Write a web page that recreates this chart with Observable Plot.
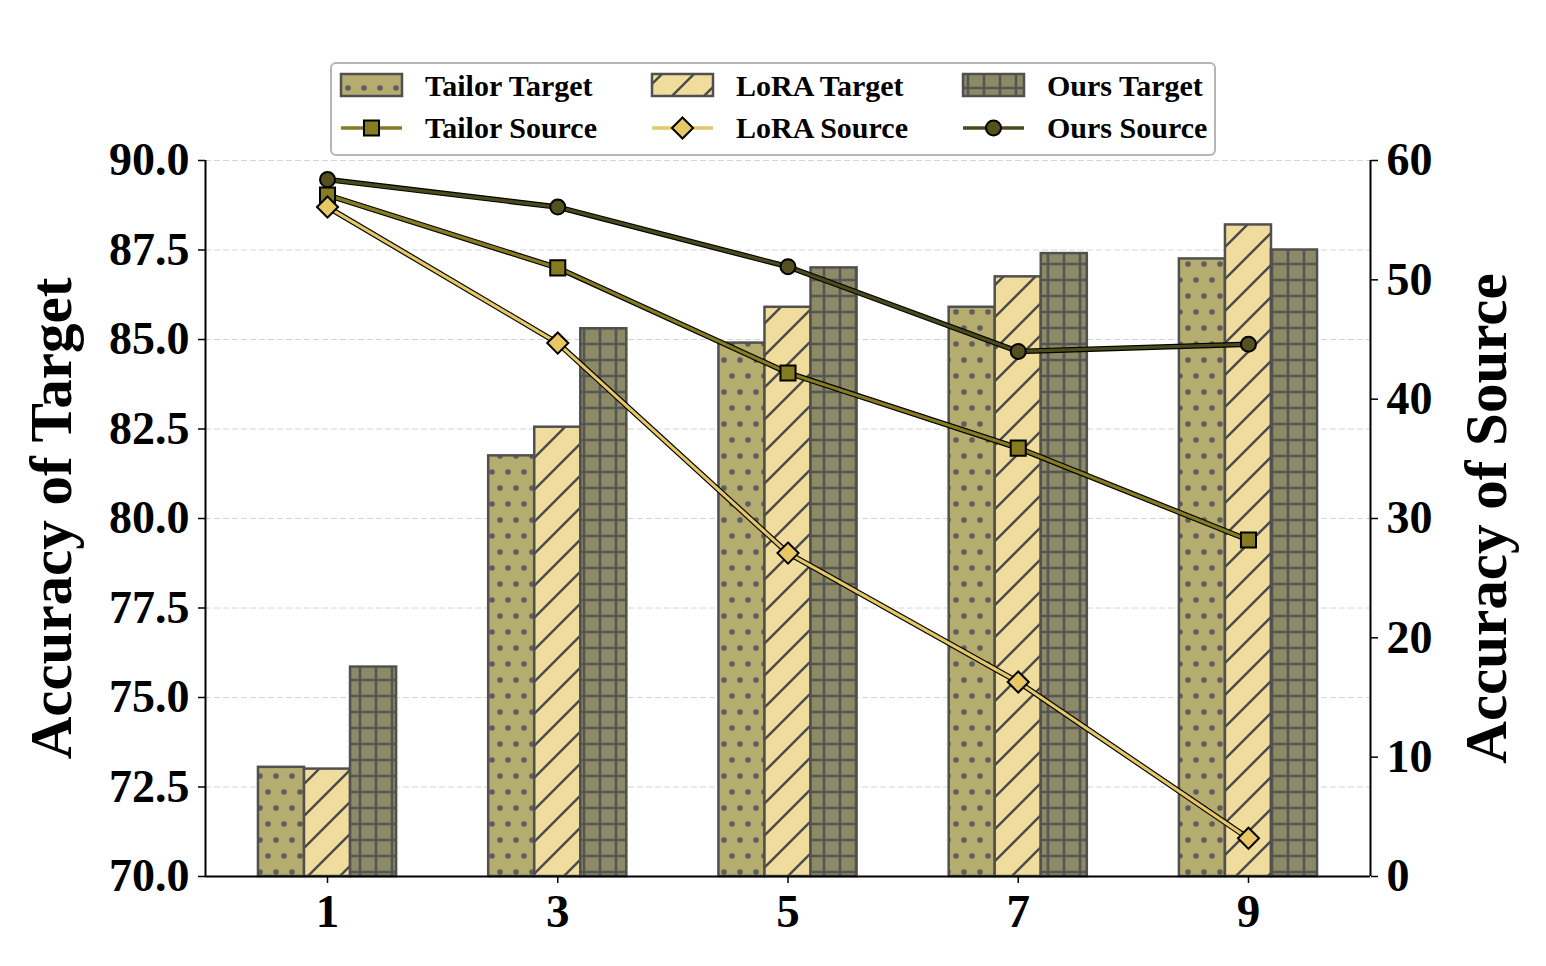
<!DOCTYPE html>
<html>
<head>
<meta charset="utf-8">
<script src="https://cdn.jsdelivr.net/npm/d3@7"></script>
<script src="https://cdn.jsdelivr.net/npm/@observablehq/plot@0.6"></script>
<style>
  html, body { margin: 0; padding: 0; background: white; }
  #wrap { position: relative; width: 1546px; height: 966px; font-family: "Liberation Serif", "Times New Roman", serif; }
  #legend { position: absolute; left: 0; top: 0; pointer-events: none; }
</style>
</head>
<body>
<div id="wrap"></div>
<script>
// ---------- data ----------
const xCats = [1, 3, 5, 7, 9];
const tailorTarget = [73.05, 81.75, 84.9, 85.9, 87.25];
const loraTarget   = [73.0, 82.55, 85.9, 86.75, 88.2];
const oursTarget   = [75.85, 85.3, 87.0, 87.4, 87.5];
const tailorSource = [57.1, 51.0, 42.2, 35.9, 28.2];
const loraSource   = [56.1, 44.7, 27.1, 16.3, 3.2];
const oursSource   = [58.4, 56.1, 51.1, 44.0, 44.6];
const leftTicks  = [70, 72.5, 75, 77.5, 80, 82.5, 85, 87.5, 90];
const rightTicks = [0, 10, 20, 30, 40, 50, 60];
const targetNames = ["Tailor Target", "LoRA Target", "Ours Target"];
const sourceNames = ["Tailor Source", "LoRA Source", "Ours Source"];
const leftTitle = "Accuracy of Target";
const rightTitle = "Accuracy of Source";

// ---------- styles ----------
const barSeries = [
  {values: tailorTarget, offset: -0.4, pattern: "pTailor"},
  {values: loraTarget,   offset:  0.0, pattern: "pLora"},
  {values: oursTarget,   offset:  0.4, pattern: "pOurs"}
];
const lineSeries = {
  tailor: {values: tailorSource, color: "#857b1f", symbol: "square", r: 8.5},
  lora:   {values: loraSource,   color: "#e8c865", symbol: "diamond2", r: 9.5},
  ours:   {values: oursSource,   color: "#55511f", symbol: "circle", r: 7.5}
};
const lineColors = {tailor: "#857b1f", lora: "#e6c766", ours: "#4b4a1a"};
const barW = 0.4;
const srcToTgt = s => 70 + s / 3;   // right axis 0..60 mapped onto left 70..90
const font = "Liberation Serif";

const marks = [];
marks.push(Plot.ruleY(leftTicks, {stroke: "#d4d4d4", strokeWidth: 1, strokeDasharray: "6,3"}));
for (const s of barSeries) {
  const data = xCats.map((x, i) => ({x, v: s.values[i]}));
  marks.push(Plot.rect(data, {
    x1: d => d.x + s.offset - barW / 2,
    x2: d => d.x + s.offset + barW / 2,
    y1: () => 70,
    y2: "v",
    fill: `url(#${s.pattern})`,
    stroke: "#505050",
    strokeWidth: 2.5
  }));
}
for (const key of ["ours", "tailor", "lora"]) {
  const s = lineSeries[key];
  const data = xCats.map((x, i) => ({x, v: srcToTgt(s.values[i])}));
  marks.push(Plot.line(data, {x: "x", y: "v", stroke: "black", strokeWidth: 5.5}));
  marks.push(Plot.line(data, {x: "x", y: "v", stroke: lineColors[key], strokeWidth: 3.2}));
  marks.push(Plot.dot(data, {x: "x", y: "v", symbol: s.symbol, r: s.r, fill: s.color, stroke: "black", strokeWidth: 2}));
}
// spines
marks.push(Plot.ruleY([70], {stroke: "black", strokeWidth: 2}));
marks.push(Plot.ruleX([-0.06, 10.06], {stroke: "black", strokeWidth: 2}));
// axes
marks.push(Plot.axisX({ticks: xCats, tickFormat: d => String(d), tickSize: 7, tickPadding: 10,
  fontSize: 47, fontWeight: "bold", label: null, strokeWidth: 1.5}));
marks.push(Plot.axisY({anchor: "left", ticks: leftTicks, tickFormat: d3.format(".1f"), tickSize: 7, tickPadding: 9,
  fontSize: 46, fontWeight: "bold", label: null, strokeWidth: 1.5}));
marks.push(Plot.axisY({anchor: "right", ticks: rightTicks.map(srcToTgt), tickFormat: d => String(Math.round((d - 70) * 3)),
  tickSize: 7, tickPadding: 9, fontSize: 46, fontWeight: "bold", label: null, strokeWidth: 1.5}));
// axis titles
marks.push(Plot.text([leftTitle], {text: d => d, frameAnchor: "left", textAnchor: "middle", dx: -153, rotate: -90,
  fontSize: 59, fontWeight: "bold", fill: "black"}));
marks.push(Plot.text([rightTitle], {text: d => d, frameAnchor: "right", textAnchor: "middle", dx: 117, rotate: -90,
  fontSize: 59, fontWeight: "bold", fill: "black"}));

const svg = Plot.plot({
  width: 1546, height: 966,
  marginLeft: 205, marginRight: 176, marginTop: 160, marginBottom: 90,
  x: {domain: [-0.06, 10.06], axis: null},
  y: {domain: [70, 90], axis: null},
  style: {fontFamily: font, background: "white", color: "black", overflow: "visible"},
  marks
});

const patternDefs = `
  <pattern id="pTailor" patternUnits="userSpaceOnUse" width="16" height="32">
    <rect width="16" height="32" fill="#b4ad6f"/>
    <circle cx="4" cy="8" r="2.8" fill="#5e5e5e"/>
    <circle cx="12" cy="24" r="2.8" fill="#5e5e5e"/>
  </pattern>
  <pattern id="pLora" patternUnits="userSpaceOnUse" width="32" height="32">
    <rect width="32" height="32" fill="#f0dc9d"/>
    <path d="M0,32 L32,0 M-4,4 L4,-4 M28,36 L36,28" stroke="#4a4a4a" stroke-width="2.4"/>
  </pattern>
  <pattern id="pOurs" patternUnits="userSpaceOnUse" width="16" height="16">
    <rect width="16" height="16" fill="#8b8a64"/>
    <path d="M0,8 L16,8 M8,0 L8,16" stroke="#555555" stroke-width="2.6"/>
  </pattern>`;
const defs = document.createElementNS("http://www.w3.org/2000/svg", "defs");
defs.innerHTML = patternDefs;
svg.insertBefore(defs, svg.firstChild);
document.getElementById("wrap").appendChild(svg);

// ---------- legend (overlay in the top margin) ----------
const leg = d3.select("#wrap").append("svg").attr("id", "legend")
  .attr("width", 1546).attr("height", 170);
leg.append("rect").attr("x", 331).attr("y", 63).attr("width", 884).attr("height", 92)
  .attr("rx", 5).attr("fill", "white").attr("fill-opacity", 0.85)
  .attr("stroke", "#b5b5b5").attr("stroke-width", 2);
const colX = [341, 652, 963];
const patterns = ["pTailor", "pLora", "pOurs"];
const lineKeys = ["tailor", "lora", "ours"];
targetNames.forEach((name, i) => {
  leg.append("rect").attr("x", colX[i]).attr("y", 74).attr("width", 61).attr("height", 22)
    .attr("fill", `url(#${patterns[i]})`).attr("stroke", "#505050").attr("stroke-width", 2.5);
  leg.append("text").attr("x", colX[i] + 84).attr("y", 96).text(name)
    .attr("font-family", font).attr("font-weight", "bold").attr("font-size", 30);
});
const symMap = {square: d3.symbolSquare, diamond2: d3.symbolDiamond2, circle: d3.symbolCircle};
sourceNames.forEach((name, i) => {
  const s = lineSeries[lineKeys[i]];
  const cy = 128;
  leg.append("line").attr("x1", colX[i]).attr("x2", colX[i] + 61).attr("y1", cy).attr("y2", cy)
    .attr("stroke", lineColors[lineKeys[i]]).attr("stroke-width", 3.5);
  leg.append("path").attr("d", d3.symbol(symMap[s.symbol], Math.PI * s.r * s.r)())
    .attr("transform", `translate(${colX[i] + 30.5},${cy})`)
    .attr("fill", s.color).attr("stroke", "black").attr("stroke-width", 2);
  leg.append("text").attr("x", colX[i] + 84).attr("y", 138).text(name)
    .attr("font-family", font).attr("font-weight", "bold").attr("font-size", 30);
});
</script>
</body>
</html>
